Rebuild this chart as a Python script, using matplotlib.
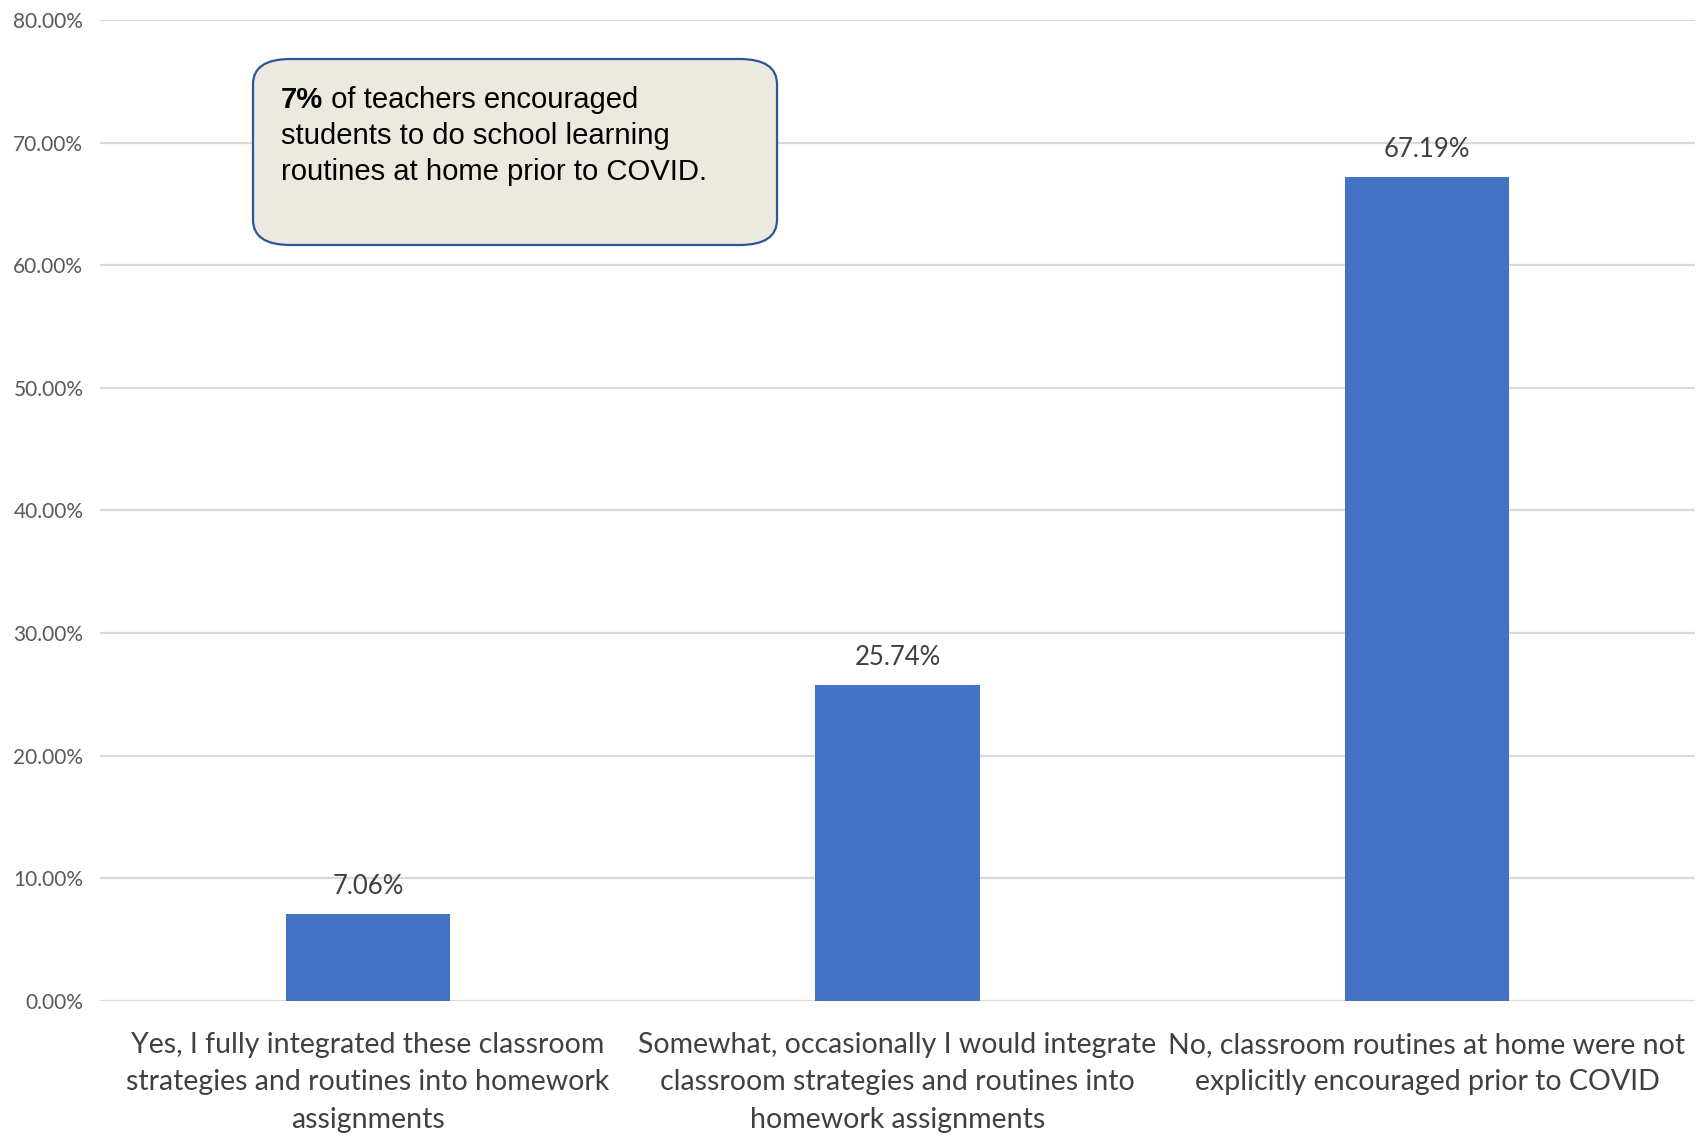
import matplotlib
matplotlib.use("Agg")
import matplotlib.pyplot as plt
from matplotlib.patches import FancyBboxPatch

categories = [
    "Yes, I fully integrated these classroom\nstrategies and routines into homework\nassignments",
    "Somewhat, occasionally I would integrate\nclassroom strategies and routines into\nhomework assignments",
    "No, classroom routines at home were not\nexplicitly encouraged prior to COVID",
]
values = [7.06, 25.74, 67.19]
yticks = [0, 10, 20, 30, 40, 50, 60, 70, 80]
ytick_labels = ["0.00%", "10.00%", "20.00%", "30.00%", "40.00%", "50.00%", "60.00%", "70.00%", "80.00%"]
bar_labels = ["7.06%", "25.74%", "67.19%"]
note_bold = "7%"
note_rest_first = " of teachers encouraged"
note_lines = ["students to do school learning", "routines at home prior to COVID."]

W, H = 1704, 1146
fig = plt.figure(figsize=(W / 100, H / 100), dpi=100)
ax = fig.add_axes([100 / W, 1 - 1001 / H, (1695 - 100) / W, (1001 - 20) / H])

x = list(range(len(categories)))
ax.bar(x, values, width=0.31, color="#4472C4", zorder=3)
ax.set_xlim(-0.506, 2.506)
ax.set_ylim(0, 80)
ax.set_yticks(yticks)
ax.set_yticklabels(ytick_labels, fontsize=15, color="#595959", family="Lato")
ax.set_xticks(x)
ax.set_xticklabels(categories, fontsize=20.5, color="#404040", family="Lato", linespacing=1.55)
ax.tick_params(axis="both", length=0)
ax.tick_params(axis="x", pad=22)
ax.tick_params(axis="y", pad=12)
ax.grid(axis="y", color="#D9D9D9", linewidth=1.6, zorder=0)
for s in ax.spines.values():
    s.set_visible(False)

for xi, v, lab in zip(x, values, bar_labels):
    ax.annotate(lab, (xi, v), xytext=(0, 11), textcoords="offset points",
                ha="center", va="bottom", fontsize=18.5, color="#404040", family="Lato")

# note box
bx0, by0, bx1, by1 = 253, 59, 777, 245
box = FancyBboxPatch((bx0 / W, 1 - by1 / H), (bx1 - bx0) / W, (by1 - by0) / H,
                     boxstyle="round,pad=0,rounding_size=0.022", transform=fig.transFigure,
                     facecolor="#ECEAE0", edgecolor="#2F5597", linewidth=1.6, zorder=5)
fig.add_artist(box)

tx = 281 / W
line_y = [100, 136, 172]
t0 = fig.text(tx, 1 - line_y[0] / H, note_bold, fontsize=21.1, fontweight="bold",
              family="Liberation Sans", va="center", ha="left", color="black", zorder=6)
fig.canvas.draw()
bb = t0.get_window_extent()
fig.text(bb.x1 / W, 1 - line_y[0] / H, note_rest_first, fontsize=21.1,
         family="Liberation Sans", va="center", ha="left", color="black", zorder=6)
for ly, txt in zip(line_y[1:], note_lines):
    fig.text(tx, 1 - ly / H, txt, fontsize=21.1, family="Liberation Sans",
             va="center", ha="left", color="black", zorder=6)

fig.savefig("out.png", dpi=100, facecolor="white")
